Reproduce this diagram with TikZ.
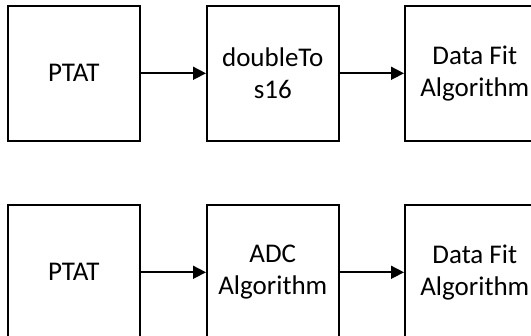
\documentclass[tikz,border=0pt]{standalone}
\usepackage{fontspec}
\setmainfont{Carlito}
\usetikzlibrary{arrows.meta}
\begin{document}
\begin{tikzpicture}[x=1pt,y=-1pt,
  blk/.style={draw=black, line width=1.6pt, minimum width=132pt, minimum height=135pt,
    inner sep=0pt, align=center, font=\fontsize{27pt}{32pt}\selectfont, anchor=north west},
  wide/.style={minimum width=140pt},
  conn/.style={line width=1.6pt, -{Triangle[length=13pt,width=13pt]}}]
\useasboundingbox (0,0) rectangle (531,336);
\clip (0,0) rectangle (531,336);
% top row
\node[blk] (a1) at (7,5) {PTAT};
\node[blk] (b1) at (206,5) {doubleTo\\s16};
\node[blk,wide] (c1) at (404,5) {Data Fit\\Algorithm};
% bottom row
\node[blk] (a2) at (7,204) {PTAT};
\node[blk] (b2) at (206,204) {ADC\\Algorithm};
\node[blk,wide] (c2) at (404,204) {Data Fit\\Algorithm};
\draw[conn] (a1.east) -- (b1.west);
\draw[conn] (b1.east) -- (c1.west);
\draw[conn] (a2.east) -- (b2.west);
\draw[conn] (b2.east) -- (c2.west);
\end{tikzpicture}
\end{document}
